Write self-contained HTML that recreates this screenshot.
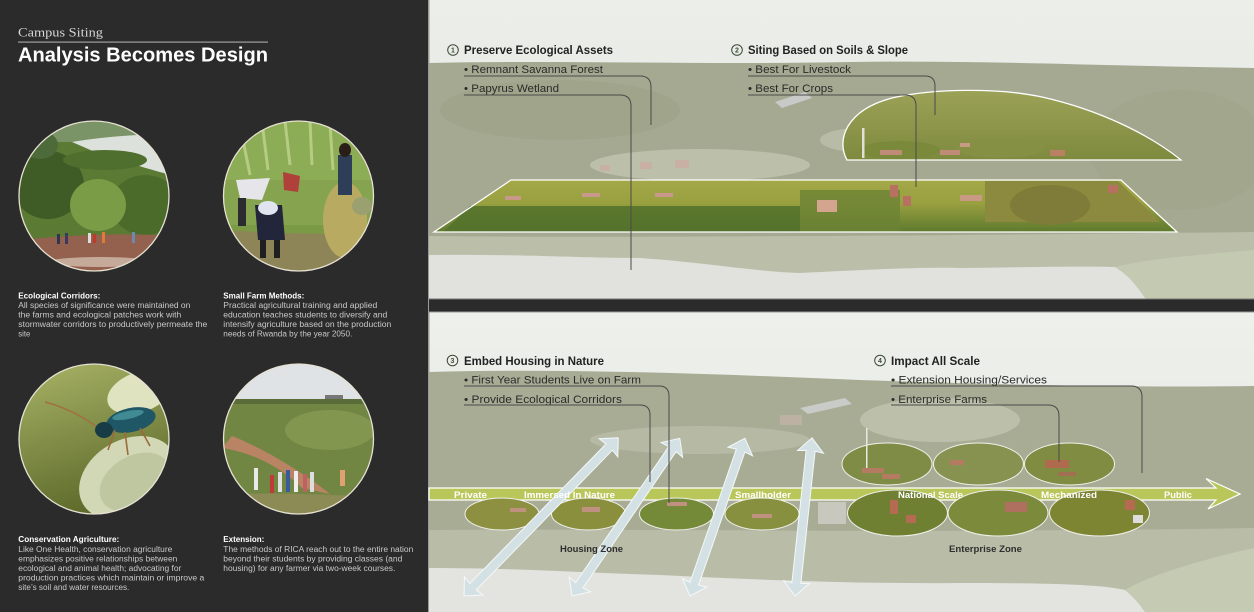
<!DOCTYPE html>
<html><head><meta charset="utf-8"><style>
html,body{margin:0;padding:0;background:#2b2b2b;}
svg{display:block;}
text{font-family:"Liberation Sans",Arial,sans-serif;}
</style></head><body>
<svg width="1254" height="612" viewBox="0 0 1254 612" xmlns="http://www.w3.org/2000/svg">
<defs>
<clipPath id="c1"><circle cx="94" cy="196" r="75"/></clipPath>
<clipPath id="c2"><circle cx="298.5" cy="196" r="75"/></clipPath>
<clipPath id="c3"><circle cx="94" cy="439" r="75"/></clipPath>
<clipPath id="c4"><circle cx="298.5" cy="439" r="75"/></clipPath>
<linearGradient id="bg3" x1="0" y1="0" x2="0.3" y2="1"><stop offset="0" stop-color="#a9b467"/><stop offset="1" stop-color="#5f6c2c"/></linearGradient>
<linearGradient id="trap" x1="0" y1="0" x2="0" y2="1"><stop offset="0" stop-color="#a4a848"/><stop offset="0.45" stop-color="#98a03f"/><stop offset="1" stop-color="#5e7a2e"/></linearGradient>
<linearGradient id="dome" x1="0" y1="0" x2="0" y2="1"><stop offset="0" stop-color="#9ca257"/><stop offset="1" stop-color="#7e8a3e"/></linearGradient>
<linearGradient id="hazeT" x1="0" y1="0" x2="0" y2="1"><stop offset="0" stop-color="#eceeea"/><stop offset="0.6" stop-color="#e6e8e3"/><stop offset="1" stop-color="#d2d5cc"/></linearGradient>
<linearGradient id="hazeB" x1="0" y1="0" x2="0" y2="1"><stop offset="0" stop-color="#eef0ec"/><stop offset="0.6" stop-color="#e7e9e4"/><stop offset="1" stop-color="#d3d6cd"/></linearGradient>
</defs>

<!-- LEFT PANEL -->
<rect x="0" y="0" width="429" height="612" fill="#2b2b2b"/>
<rect x="428" y="0" width="1.5" height="612" fill="#9a9a9a"/>
<text x="18" y="36.5" font-family="Liberation Serif, serif" style="font-family:'Liberation Serif',serif" font-size="13" fill="#d6d6d6" textLength="85" lengthAdjust="spacingAndGlyphs">Campus Siting</text>
<rect x="18" y="41.5" width="250" height="1.2" fill="#a0a0a0"/>
<text x="18" y="61.5" font-size="20" font-weight="bold" fill="#ffffff" textLength="250" lengthAdjust="spacingAndGlyphs">Analysis Becomes Design</text>

<!-- Circle 1 -->
<g clip-path="url(#c1)">
<rect x="18" y="120" width="152" height="153" fill="#5b7a34"/>
<rect x="18" y="120" width="152" height="22" fill="#7a9468"/>
<path d="M72,142 C100,137 140,134 172,134 L172,175 C150,170 120,160 95,152 Z" fill="#dde1dc"/>
<ellipse cx="48" cy="185" rx="36" ry="34" fill="#3f5c26"/>
<ellipse cx="145" cy="205" rx="34" ry="30" fill="#4a6b2a"/>
<ellipse cx="98" cy="205" rx="28" ry="26" fill="#7a9c47"/>
<ellipse cx="105" cy="160" rx="42" ry="10" fill="#4f6f2e"/>
<ellipse cx="40" cy="145" rx="18" ry="14" fill="#4d6b3a"/>
<path d="M18,240 C60,236 120,232 172,236 L172,273 L18,273 Z" fill="#93614d"/>
<ellipse cx="100" cy="262" rx="52" ry="5" fill="#c5aa9a"/>
<rect x="57" y="234" width="3" height="10" fill="#2e3550"/><rect x="65" y="233" width="3" height="11" fill="#3a3a60"/><rect x="88" y="233" width="3" height="10" fill="#ddd"/><rect x="93" y="234" width="3" height="9" fill="#c0392b"/><rect x="102" y="232" width="3" height="11" fill="#e07a3a"/><rect x="132" y="232" width="3" height="11" fill="#6a8ab0"/>
</g>
<circle cx="94" cy="196" r="75" fill="none" stroke="#e6e1d2" stroke-width="1.3"/>

<!-- Circle 2 -->
<g clip-path="url(#c2)">
<rect x="222" y="120" width="153" height="153" fill="#7b9a45"/>
<rect x="222" y="120" width="153" height="60" fill="#8cad55"/>
<path d="M240,125 L250,175 M262,122 L268,170 M285,121 L290,165 M310,121 L312,165 M330,124 L333,170" stroke="#b5cc82" stroke-width="3"/>
<rect x="222" y="180" width="153" height="45" fill="#86a34f"/>
<path d="M222,230 C260,232 320,236 375,232 L375,273 L222,273 Z" fill="#8d8557"/>
<ellipse cx="345" cy="220" rx="22" ry="38" fill="#b9aa62"/>
<rect x="338" y="155" width="14" height="40" fill="#2f3e58"/>
<ellipse cx="345" cy="150" rx="6" ry="7" fill="#2a1e18"/>
<path d="M236,180 L270,178 L262,200 L240,198 Z" fill="#e6e6ea"/>
<rect x="238" y="198" width="8" height="28" fill="#2c2c30"/>
<path d="M255,205 L282,205 L285,240 L258,240 Z" fill="#23263a"/>
<ellipse cx="268" cy="208" rx="10" ry="7" fill="#dfe4ee"/>
<rect x="260" y="240" width="6" height="18" fill="#1f1f22"/>
<rect x="274" y="240" width="6" height="18" fill="#1f1f22"/>
<path d="M283,172 L300,176 L298,192 L284,190 Z" fill="#b0403a"/>
<ellipse cx="362" cy="206" rx="10" ry="9" fill="#9aa070"/>
</g>
<circle cx="298.5" cy="196" r="75" fill="none" stroke="#e6e1d2" stroke-width="1.3"/>

<!-- Circle 3 -->
<g clip-path="url(#c3)">
<rect x="18" y="363" width="152" height="152" fill="url(#bg3)"/>
<ellipse cx="140" cy="392" rx="34" ry="20" fill="#dfe3c0" transform="rotate(-20 140 392)"/>
<ellipse cx="128" cy="478" rx="52" ry="38" fill="#d2d7b6" transform="rotate(-30 128 478)"/>
<ellipse cx="135" cy="482" rx="38" ry="26" fill="#bfc7a0" transform="rotate(-30 135 482)"/>
<path d="M45,402 Q75,410 98,428" stroke="#a07040" stroke-width="1.6" fill="none"/>
<ellipse cx="131" cy="420" rx="25" ry="12" fill="#1f5766" transform="rotate(-12 131 420)"/>
<ellipse cx="128" cy="415" rx="16" ry="4" fill="#3f8a95" transform="rotate(-12 128 415)"/>
<ellipse cx="104" cy="430" rx="9" ry="8" fill="#173c45"/>
<path d="M115,430 L108,450 M125,432 L128,455 M140,428 L150,446" stroke="#9a6a3a" stroke-width="1.6"/>
</g>
<circle cx="94" cy="439" r="75" fill="none" stroke="#e6e1d2" stroke-width="1.3"/>

<!-- Circle 4 -->
<g clip-path="url(#c4)">
<rect x="222" y="363" width="153" height="152" fill="#728644"/>
<rect x="222" y="363" width="153" height="38" fill="#dfe3e5"/>
<rect x="325" y="395" width="18" height="6" fill="#777"/>
<rect x="222" y="399" width="153" height="5" fill="#5a6d38"/>
<ellipse cx="330" cy="430" rx="45" ry="20" fill="#82964f"/>
<path d="M222,448 C250,452 280,466 302,488 L330,494 C300,470 262,448 232,436 Z" fill="#b98464"/>
<path d="M222,495 C260,492 320,494 375,497 L375,515 L222,515 Z" fill="#8c8a55"/>
<rect x="254" y="468" width="4" height="22" fill="#e8e8e8"/><rect x="270" y="475" width="4" height="18" fill="#c03a3a"/><rect x="278" y="472" width="4" height="20" fill="#e0e0e0"/><rect x="286" y="470" width="4" height="22" fill="#3a5aa0"/><rect x="294" y="471" width="4" height="21" fill="#eee"/><rect x="303" y="474" width="4" height="18" fill="#c06060"/><rect x="310" y="472" width="4" height="20" fill="#ddd"/><rect x="340" y="470" width="5" height="16" fill="#e0a070"/>
</g>
<circle cx="298.5" cy="439" r="75" fill="none" stroke="#e6e1d2" stroke-width="1.3"/>

<!-- Left captions -->
<g font-size="8" fill="#c9c9c9">
<text x="18.3" y="298.5" font-weight="bold" fill="#ffffff" textLength="82" lengthAdjust="spacingAndGlyphs">Ecological Corridors:</text>
<text x="18.3" y="308" textLength="172" lengthAdjust="spacingAndGlyphs">All species of significance were maintained on</text>
<text x="18.3" y="317.5" textLength="163" lengthAdjust="spacingAndGlyphs">the farms and ecological patches work with</text>
<text x="18.3" y="327" textLength="189" lengthAdjust="spacingAndGlyphs">stormwater corridors to productively permeate the</text>
<text x="18.3" y="336.5" textLength="12" lengthAdjust="spacingAndGlyphs">site</text>

<text x="223.3" y="298.5" font-weight="bold" fill="#ffffff" textLength="81" lengthAdjust="spacingAndGlyphs">Small Farm Methods:</text>
<text x="223.3" y="308" textLength="154" lengthAdjust="spacingAndGlyphs">Practical agricultural training and applied</text>
<text x="223.3" y="317.5" textLength="164" lengthAdjust="spacingAndGlyphs">education teaches students to diversify and</text>
<text x="223.3" y="327" textLength="168" lengthAdjust="spacingAndGlyphs">intensify agriculture based on the production</text>
<text x="223.3" y="336.5" textLength="129" lengthAdjust="spacingAndGlyphs">needs of Rwanda by the year 2050.</text>

<text x="18.3" y="542" font-weight="bold" fill="#ffffff" textLength="101" lengthAdjust="spacingAndGlyphs">Conservation Agriculture:</text>
<text x="18.3" y="552" textLength="154" lengthAdjust="spacingAndGlyphs">Like One Health, conservation agriculture</text>
<text x="18.3" y="561.5" textLength="159" lengthAdjust="spacingAndGlyphs">emphasizes positive relationships between</text>
<text x="18.3" y="571" textLength="163" lengthAdjust="spacingAndGlyphs">ecological and animal health; advocating for</text>
<text x="18.3" y="580.5" textLength="186" lengthAdjust="spacingAndGlyphs">production practices which maintain or improve a</text>
<text x="18.3" y="590" textLength="111" lengthAdjust="spacingAndGlyphs">site’s soil and water resources.</text>

<text x="223.3" y="542" font-weight="bold" fill="#ffffff" textLength="41" lengthAdjust="spacingAndGlyphs">Extension:</text>
<text x="223.3" y="552" textLength="190" lengthAdjust="spacingAndGlyphs">The methods of RICA reach out to the entire nation</text>
<text x="223.3" y="561.5" textLength="179" lengthAdjust="spacingAndGlyphs">beyond their students by providing classes (and</text>
<text x="223.3" y="571" textLength="172" lengthAdjust="spacingAndGlyphs">housing) for any farmer via two-week courses.</text>
</g>

<!-- TOP RIGHT PANEL -->
<rect x="429.5" y="0" width="825" height="299" fill="url(#hazeT)"/>
<path d="M429,63 C560,60 700,65 850,62 C980,60 1100,66 1254,68 L1254,299 L429,299 Z" fill="#a5a991"/>
<ellipse cx="560" cy="110" rx="120" ry="30" fill="#a0a48b"/>
<ellipse cx="1180" cy="150" rx="90" ry="60" fill="#a2a68d"/>
<ellipse cx="700" cy="165" rx="110" ry="16" fill="#bcc0ab"/>
<ellipse cx="860" cy="140" rx="40" ry="12" fill="#b8bca6"/>
<path d="M775,102 L805,92 L812,98 L782,108 Z" fill="#c8cac8"/>
<rect x="640" y="162" width="12" height="7" fill="#c8b0a2"/><rect x="675" y="160" width="14" height="8" fill="#c8b0a2"/><rect x="600" y="165" width="10" height="6" fill="#c8b0a2"/>
<path d="M429,236 C600,238 900,236 1254,232 L1254,299 L429,299 Z" fill="#bbbfa9"/>
<path d="M429,255 C520,254 580,258 640,258 C700,262 760,272 800,273 C860,270 920,267 960,268 C1030,267 1090,266 1115,267 C1130,276 1138,288 1146,299 L429,299 Z" fill="#e1e1dd"/>
<path d="M1115,267 C1130,276 1138,288 1146,299 L1254,299 L1254,250 C1200,255 1150,258 1115,267 Z" fill="#c4c9b2"/>

<!-- Dome parcel -->
<path d="M847,160 C836,140 846,110 892,98 C935,88 1000,88 1042,97 C1100,110 1150,135 1181,160 Z" fill="url(#dome)"/>
<ellipse cx="900" cy="150" rx="40" ry="9" fill="#7a8a3a"/>
<ellipse cx="1000" cy="148" rx="45" ry="10" fill="#869044"/>
<rect x="862" y="128" width="2.5" height="30" fill="#e0e0d8"/>
<rect x="880" y="150" width="22" height="5" fill="#c08c78"/><rect x="940" y="150" width="20" height="5" fill="#c08c78"/><rect x="960" y="143" width="10" height="4" fill="#c89a84"/><rect x="1050" y="150" width="15" height="6" fill="#b98064"/>
<path d="M847,160 C836,140 846,110 892,98 C935,88 1000,88 1042,97 C1100,110 1150,135 1181,160 Z" fill="none" stroke="#ffffff" stroke-width="1.3"/>

<!-- Trapezoid parcel -->
<path d="M511,180 L1121,180 L1177,232 L434,232 Z" fill="url(#trap)"/>
<path d="M470,206 L800,206 L800,232 L443,232 Z" fill="#52712b" opacity="0.85"/>
<path d="M800,190 L900,190 L900,232 L800,232 Z" fill="#6b8234" opacity="0.8"/>
<path d="M985,181 L1118,181 L1160,222 L985,222 Z" fill="#8c8a3e"/>
<ellipse cx="1050" cy="205" rx="40" ry="20" fill="#7e7c38"/>
<rect x="505" y="196" width="16" height="4" fill="#c8998a"/><rect x="582" y="193" width="18" height="4" fill="#c8998a"/><rect x="655" y="193" width="18" height="4" fill="#c8998a"/><rect x="817" y="200" width="20" height="12" fill="#d3a48e"/><rect x="890" y="185" width="8" height="12" fill="#b87060"/><rect x="903" y="196" width="8" height="10" fill="#b87060"/><rect x="960" y="195" width="22" height="6" fill="#c89a84"/><rect x="1108" y="185" width="10" height="8" fill="#b87060"/>
<path d="M511,180 L1121,180 L1177,232 L434,232 Z" fill="none" stroke="#ffffff" stroke-width="1.3"/>

<!-- Top labels -->
<circle cx="453" cy="50" r="5.3" fill="none" stroke="#3c4a35" stroke-width="1"/>
<text x="453" y="52.6" font-size="7" font-weight="bold" fill="#3c4a35" text-anchor="middle">1</text>
<text x="464" y="54" font-size="11.5" font-weight="bold" fill="#222" textLength="149" lengthAdjust="spacingAndGlyphs">Preserve Ecological Assets</text>
<text x="464" y="73" font-size="11" fill="#2a2a2a" textLength="139" lengthAdjust="spacingAndGlyphs">• Remnant Savanna Forest</text>
<text x="464" y="92" font-size="11" fill="#2a2a2a" textLength="95" lengthAdjust="spacingAndGlyphs">• Papyrus Wetland</text>
<path d="M464,76 H640 Q651,76 651,87 V125" fill="none" stroke="#4a4a4a" stroke-width="1"/>
<path d="M464,95 H620 Q631,95 631,106 V270" fill="none" stroke="#4a4a4a" stroke-width="1"/>

<circle cx="737" cy="50" r="5.3" fill="none" stroke="#3c4a35" stroke-width="1"/>
<text x="737" y="52.6" font-size="7" font-weight="bold" fill="#3c4a35" text-anchor="middle">2</text>
<text x="748" y="54" font-size="11.5" font-weight="bold" fill="#222" textLength="160" lengthAdjust="spacingAndGlyphs">Siting Based on Soils &amp; Slope</text>
<text x="748" y="73" font-size="11" fill="#2a2a2a" textLength="103" lengthAdjust="spacingAndGlyphs">• Best For Livestock</text>
<text x="748" y="92" font-size="11" fill="#2a2a2a" textLength="85" lengthAdjust="spacingAndGlyphs">• Best For Crops</text>
<path d="M748,76 H925 Q935,76 935,86 V115" fill="none" stroke="#4a4a4a" stroke-width="1"/>
<path d="M748,95 H905 Q916,95 916,106 V187" fill="none" stroke="#4a4a4a" stroke-width="1"/>

<!-- Divider -->
<rect x="429" y="298.5" width="825" height="1" fill="#777"/>
<rect x="429" y="299.5" width="825" height="12.5" fill="#2b2b2b"/>
<rect x="429" y="311.5" width="825" height="1" fill="#9a9a9a"/>

<!-- BOTTOM RIGHT PANEL -->
<rect x="429.5" y="312.5" width="825" height="300" fill="url(#hazeB)"/>
<path d="M429,372 C560,368 720,374 860,380 C980,384 1120,388 1254,386 L1254,612 L429,612 Z" fill="#a8ac95"/>
<ellipse cx="940" cy="420" rx="80" ry="22" fill="#bcc0aa"/>
<ellipse cx="700" cy="440" rx="110" ry="14" fill="#b6baa4"/>
<path d="M800,408 L845,398 L852,404 L808,414 Z" fill="#c9cbc9"/>
<rect x="780" y="415" width="22" height="10" fill="#c4b4a8" opacity="0.7"/>
<path d="M429,530 C600,528 900,534 1254,528 L1254,612 L429,612 Z" fill="#b9bda8"/>
<rect x="818" y="502" width="28" height="22" fill="#cfcfc8" opacity="0.8"/>
<path d="M429,568 C520,568 590,573 660,575 C760,580 860,584 960,583 C1040,583 1100,584 1125,590 C1135,598 1140,605 1145,612 L429,612 Z" fill="#e3e3e0"/>
<path d="M1125,590 C1135,598 1140,605 1145,612 L1254,612 L1254,548 C1200,560 1150,575 1125,590 Z" fill="#c5cab3"/>

<!-- Enterprise upper ellipses -->
<ellipse cx="887" cy="464" rx="45" ry="21" fill="#7f8c46" stroke="#f0f0ea" stroke-width="1"/>
<ellipse cx="978.5" cy="464" rx="45" ry="21" fill="#889250" stroke="#f0f0ea" stroke-width="1"/>
<ellipse cx="1069.5" cy="464" rx="45" ry="21" fill="#808c42" stroke="#f0f0ea" stroke-width="1"/>
<rect x="862" y="468" width="22" height="5" fill="#b57a62"/><rect x="882" y="474" width="18" height="5" fill="#b57a62"/><rect x="950" y="460" width="14" height="5" fill="#b57a62"/><rect x="1045" y="460" width="24" height="8" fill="#b06a4e"/><rect x="1058" y="472" width="18" height="4" fill="#a07050"/>
<rect x="866" y="428" width="1.5" height="40" fill="#e8e8e0"/>

<!-- Green band -->
<path d="M429,488 L1216,488 L1206,478.5 L1240,494 L1208,509 L1216,500 L429,500 Z" fill="#b9c75a" stroke="#ffffff" stroke-width="1.2"/>

<!-- Housing ellipses -->
<ellipse cx="502" cy="514" rx="37" ry="16" fill="#8d9040" stroke="#f0f0ea" stroke-width="1"/>
<ellipse cx="588.5" cy="514" rx="37" ry="16" fill="#8a8f3e" stroke="#f0f0ea" stroke-width="1"/>
<ellipse cx="676.5" cy="514" rx="37" ry="16" fill="#758a38" stroke="#f0f0ea" stroke-width="1"/>
<ellipse cx="762" cy="514" rx="37" ry="16" fill="#86903f" stroke="#f0f0ea" stroke-width="1"/>
<rect x="510" y="508" width="16" height="4" fill="#c09080"/><rect x="582" y="507" width="18" height="5" fill="#c09080"/><rect x="667" y="502" width="20" height="4" fill="#c09080"/><rect x="752" y="514" width="20" height="4" fill="#c09080"/>

<!-- Enterprise lower ellipses -->
<ellipse cx="897.5" cy="513" rx="50" ry="23" fill="#6f8033" stroke="#f0f0ea" stroke-width="1"/>
<ellipse cx="998" cy="513" rx="50" ry="23" fill="#7c8a3c" stroke="#f0f0ea" stroke-width="1"/>
<ellipse cx="1099.5" cy="513" rx="50" ry="23" fill="#7d8533" stroke="#f0f0ea" stroke-width="1"/>
<rect x="890" y="500" width="8" height="14" fill="#b56a52"/><rect x="906" y="515" width="10" height="8" fill="#b56a52"/><rect x="1005" y="502" width="22" height="10" fill="#b07060"/><rect x="1125" y="500" width="10" height="10" fill="#b56a52"/><rect x="1133" y="515" width="10" height="8" fill="#ddd"/>

<!-- Blue double arrows -->
<g fill="#d3e1e5" stroke="#f4f8f8" stroke-width="1">
<path transform="translate(464,596) rotate(-45.73)" d="M0,0 L14,-13 L13,-4.5 L208,-4.5 L207,-13 L221,0 L207,13 L208,4.5 L13,4.5 L14,13 Z"/>
<path transform="translate(572,596) rotate(-55.65)" d="M0,0 L14,-13 L13,-4.5 L178,-4.5 L177,-13 L191,0 L177,13 L178,4.5 L13,4.5 L14,13 Z"/>
<path transform="translate(690,596) rotate(-70.81)" d="M0,0 L14,-13 L13,-4.5 L154,-4.5 L153,-13 L167,0 L153,13 L154,4.5 L13,4.5 L14,13 Z"/>
<path transform="translate(795,596) rotate(-83.86)" d="M0,0 L14,-13 L13,-4.5 L146,-4.5 L145,-13 L159,0 L145,13 L146,4.5 L13,4.5 L14,13 Z"/>
</g>

<!-- Band labels -->
<g font-size="9" font-weight="bold" fill="#ffffff">
<text x="454" y="498" textLength="33" lengthAdjust="spacingAndGlyphs">Private</text>
<text x="524" y="498" textLength="91" lengthAdjust="spacingAndGlyphs">Immersed In Nature</text>
<text x="735" y="498" textLength="56" lengthAdjust="spacingAndGlyphs">Smallholder</text>
<text x="898" y="498" textLength="65" lengthAdjust="spacingAndGlyphs">National Scale</text>
<text x="1041" y="498" textLength="56" lengthAdjust="spacingAndGlyphs">Mechanized</text>
<text x="1164" y="498" textLength="28" lengthAdjust="spacingAndGlyphs">Public</text>
</g>
<text x="560" y="552" font-size="9.5" font-weight="bold" fill="#2e2e2e" textLength="63" lengthAdjust="spacingAndGlyphs">Housing Zone</text>
<text x="949" y="552" font-size="9.5" font-weight="bold" fill="#2e2e2e" textLength="73" lengthAdjust="spacingAndGlyphs">Enterprise Zone</text>

<!-- Bottom labels -->
<circle cx="452.5" cy="360.5" r="5.3" fill="none" stroke="#3c4a35" stroke-width="1"/>
<text x="452.5" y="363.1" font-size="7" font-weight="bold" fill="#3c4a35" text-anchor="middle">3</text>
<text x="464" y="365" font-size="11.5" font-weight="bold" fill="#222" textLength="140" lengthAdjust="spacingAndGlyphs">Embed Housing in Nature</text>
<text x="464" y="383.5" font-size="11" fill="#2a2a2a" textLength="177" lengthAdjust="spacingAndGlyphs">• First Year Students Live on Farm</text>
<text x="464" y="403" font-size="11" fill="#2a2a2a" textLength="158" lengthAdjust="spacingAndGlyphs">• Provide Ecological Corridors</text>
<path d="M464,386 H659 Q669,386 669,396 V503" fill="none" stroke="#4a4a4a" stroke-width="1"/>
<path d="M464,405 H640 Q650,405 650,415 V482" fill="none" stroke="#4a4a4a" stroke-width="1"/>

<circle cx="880" cy="360.5" r="5.3" fill="none" stroke="#3c4a35" stroke-width="1"/>
<text x="880" y="363.1" font-size="7" font-weight="bold" fill="#3c4a35" text-anchor="middle">4</text>
<text x="891" y="365" font-size="11.5" font-weight="bold" fill="#222" textLength="89" lengthAdjust="spacingAndGlyphs">Impact All Scale</text>
<text x="891" y="383.5" font-size="11" fill="#2a2a2a" textLength="156" lengthAdjust="spacingAndGlyphs">• Extension Housing/Services</text>
<text x="891" y="403" font-size="11" fill="#2a2a2a" textLength="96" lengthAdjust="spacingAndGlyphs">• Enterprise Farms</text>
<path d="M891,386 H1131 Q1142,386 1142,397 V473" fill="none" stroke="#4a4a4a" stroke-width="1"/>
<path d="M891,405 H1048 Q1059,405 1059,416 V462" fill="none" stroke="#4a4a4a" stroke-width="1"/>
</svg>
</body></html>
